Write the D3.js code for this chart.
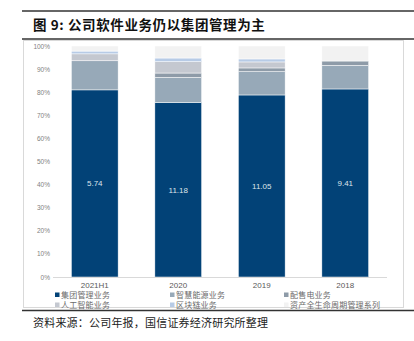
<!DOCTYPE html>
<html><head><meta charset="utf-8">
<script src="https://cdn.jsdelivr.net/npm/d3@7"></script>
<style>body{margin:0;background:#fff;}svg{display:block;}</style>
</head><body>
<svg id="c" width="414" height="341"></svg>
<script>
const categories = ["2021H1", "2020", "2019", "2018"];
const seriesNames = ["集团管理业务", "智慧能源业务", "配售电业务", "人工智能业务", "区块链业务", "资产全生命周期管理系列"];
const groupMgmt = [81.0, 75.6, 78.8, 81.4];
const smartEnergy = [12.6, 10.8, 10.1, 10.2];
const powerSale = [0, 1.9, 1.6, 1.9];
const ai = [3.0, 4.9, 2.6, 0];
const blockchain = [1.2, 1.6, 1.3, 0];
const assetLife = [2.2, 5.2, 5.6, 6.5];
const barLabels = ["5.74", "11.18", "11.05", "9.41"];
const yTicks = [0, 10, 20, 30, 40, 50, 60, 70, 80, 90, 100];
const colors = ["#024277", "#97a9b8", "#8e9ba8", "#c4c8d0", "#b7cbe6", "#f2f2f2"];

const svg = d3.select("#c");
const font = "'Liberation Sans', Arial, sans-serif";
const cjk = "'Noto Sans CJK SC', sans-serif";

// top rules and title
svg.append("line").attr("x1", 22).attr("x2", 414).attr("y1", 11).attr("y2", 11).attr("stroke", "#333").attr("stroke-width", 1.5);
svg.append("line").attr("x1", 22).attr("x2", 414).attr("y1", 39).attr("y2", 39).attr("stroke", "#333").attr("stroke-width", 1.5);
svg.append("text").attr("x", 33).attr("y", 30).attr("font-family", cjk).attr("font-size", 13.5).attr("font-weight", "bold").attr("letter-spacing", 0.6).attr("fill", "#111").text("图 9: 公司软件业务仍以集团管理为主");

// chart frame
svg.append("rect").attr("x", 23.5).attr("y", 40.5).attr("width", 380).attr("height", 267).attr("fill", "none").attr("stroke", "#d9d9d9").attr("stroke-width", 1);

const data = categories.map((c, i) => ({
  cat: c,
  [seriesNames[0]]: groupMgmt[i],
  [seriesNames[1]]: smartEnergy[i],
  [seriesNames[2]]: powerSale[i],
  [seriesNames[3]]: ai[i],
  [seriesNames[4]]: blockchain[i],
  [seriesNames[5]]: assetLife[i]
}));

const x = d3.scaleBand().domain(categories).range([53, 387]).paddingInner(0.44).paddingOuter(0.22);
const y = d3.scaleLinear().domain([0, 100]).range([277, 46]);

const stack = d3.stack().keys(seriesNames);
const layers = stack(data);

svg.append("g").selectAll("g").data(layers).join("g")
  .attr("fill", (d, i) => colors[i])
  .selectAll("rect").data(d => d).join("rect")
  .attr("x", d => x(d.data.cat))
  .attr("width", x.bandwidth())
  .attr("y", d => y(d[1]))
  .attr("height", d => Math.max(0, y(d[0]) - y(d[1])))
  .attr("stroke", "#fff").attr("stroke-width", 0.5);

// bar labels
svg.append("g").selectAll("text").data(layers[0]).join("text")
  .attr("x", d => x(d.data.cat) + x.bandwidth() / 2)
  .attr("y", d => (y(d[0]) + y(d[1])) / 2 + 3)
  .attr("text-anchor", "middle").attr("font-family", font).attr("font-size", 8).attr("fill", "#dfe4ea")
  .text((d, i) => barLabels[i]);

// y axis
const yAxis = d3.axisLeft(y).tickValues(yTicks).tickFormat(d => d + "%").tickSize(0).tickPadding(0);
const gy = svg.append("g").attr("transform", "translate(50,0)").call(yAxis);
gy.select(".domain").remove();
gy.selectAll("text").attr("font-family", font).attr("font-size", 6.5).attr("fill", "#7f7f7f");

// x axis
const xAxis = d3.axisBottom(x).tickSize(0).tickPadding(5);
const gx = svg.append("g").attr("transform", "translate(0,277.5)").call(xAxis);
gx.select(".domain").attr("stroke", "#d9d9d9").attr("d", "M53,0H387");
gx.selectAll("text").attr("font-family", font).attr("font-size", 8).attr("fill", "#595959");

// legend
const legX = [57, 172, 286];
const legY = [295, 305];
const leg = svg.append("g").selectAll("g").data(seriesNames).join("g")
  .attr("transform", (d, i) => `translate(${legX[i % 3]},${legY[Math.floor(i / 3)]})`);
leg.append("rect").attr("x", -2).attr("y", -2.5).attr("width", 4.5).attr("height", 4.5).attr("fill", (d, i) => colors[i]);
leg.append("text").attr("x", 4).attr("y", 3).attr("font-family", cjk).attr("font-size", 8).attr("letter-spacing", 0.2).attr("fill", "#6b6b6b").text(d => d);

// bottom rule and source
svg.append("line").attr("x1", 22).attr("x2", 414).attr("y1", 310.5).attr("y2", 310.5).attr("stroke", "#333").attr("stroke-width", 1.5);
svg.append("text").attr("x", 33).attr("y", 327).attr("font-family", cjk).attr("font-size", 11).attr("letter-spacing", 0.2).attr("fill", "#222").text("资料来源：公司年报，国信证券经济研究所整理");
</script>
</body></html>
